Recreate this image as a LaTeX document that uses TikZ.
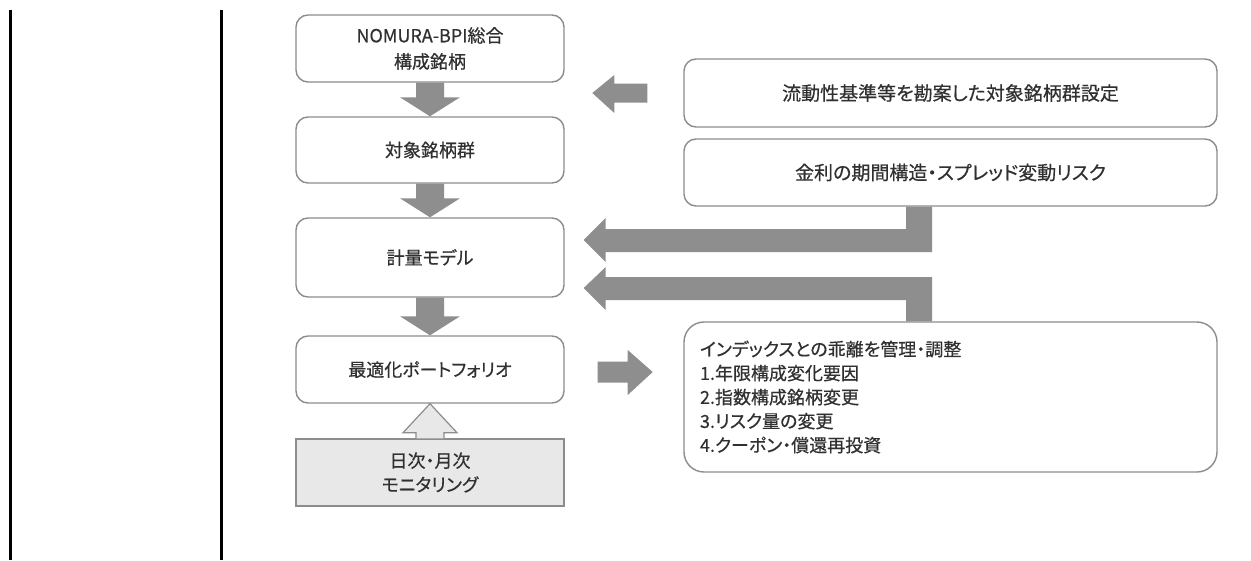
\documentclass[tikz,border=0pt]{standalone}
\usepackage{fontspec}
\setmainfont{Noto Sans CJK JP}[RawFeature=+palt, FakeBold=0.5]
\usetikzlibrary{calc}
\definecolor{txt}{RGB}{48,48,48}
\definecolor{bord}{RGB}{140,140,140}
\definecolor{arr}{RGB}{142,142,142}
\definecolor{lightfill}{RGB}{232,232,232}
\tikzset{
  rbox/.style={draw=bord, line width=1.4pt, rounded corners=12pt, fill=white,
    minimum width=268pt, minimum height=67pt, align=center, text=txt,
    font=\fontsize{18}{26}\selectfont, inner sep=0pt},
  wbox/.style={rbox, minimum width=533pt, minimum height=67pt,
    font=\fontsize{19}{24}\selectfont},
  blk/.style={fill=arr, draw=none},
  blkup/.style={fill=lightfill, draw=bord, line width=1.2pt},
  vline/.style={line width=3pt, black}
}
\begin{document}
\begin{tikzpicture}[x=1pt,y=-1pt]
\useasboundingbox (0,0) rectangle (1251,560);
\fill[white] (0,0) rectangle (1251,560);
% vertical rules
\coordinate (l1t) at (10,10); \coordinate (l1b) at (10,560);
\coordinate (l2t) at (221,10); \coordinate (l2b) at (221,560);
\draw[vline] (l1t) -- (l1b);
\draw[vline] (l2t) -- (l2b);
% left column
\node[rbox] (b1) at (430,48.5) {NOMURA-BPI総合\\構成銘柄};
\node[rbox, minimum height=66pt] (b2) at (430,150) {対象銘柄群};
\node[rbox, minimum height=79pt] (b3) at (430,257.5) {計量モデル};
\node[rbox] (b4) at (430,369.5) {最適化ポートフォリオ};
\node[rbox, rounded corners=0pt, fill=lightfill, font=\fontsize{18}{24}\selectfont] (b5) at (430,472.5) {日次・月次\\モニタリング};
% right column
\node[wbox, minimum height=68pt] (rA) at (950.5,93) {流動性基準等を勘案した対象銘柄群設定};
\node[wbox] (rB) at (950.5,172.5) {金利の期間構造・スプレッド変動リスク};
\node[wbox, minimum height=150pt, rounded corners=20pt, align=left, text width=501pt, inner xsep=16pt,
  font=\fontsize{18}{24}\selectfont] (rC) at (950.5,397)
 {インデックスとの乖離を管理・調整\\1.年限構成変化要因\\2.指数構成銘柄変更\\3.リスク量の変更\\4.クーポン・償還再投資};
% down block arrows
\foreach \a/\b in {b1/b2, b2/b3, b3/b4}{
  \fill[blk] ($(\a.south)+(-14,0)$) -- ($(\a.south)+(14,0)$) -- ($(\b.north)+(14,-19)$)
    -- ($(\b.north)+(30,-19)$) -- (\b.north) -- ($(\b.north)+(-30,-19)$)
    -- ($(\b.north)+(-14,-19)$) -- cycle;
}
% up outline arrow
\draw[blkup] ($(b5.north)+(-14,0)$) -- ($(b4.south)+(-14,29)$) -- ($(b4.south)+(-27,29)$)
  -- (b4.south) -- ($(b4.south)+(27,29)$) -- ($(b4.south)+(14,29)$) -- ($(b5.north)+(14,0)$);
% left arrow beside rA
\fill[blk] ($(rA.west)+(-36,-9.5)$) -- ($(rA.west)+(-36,9.5)$) -- ($(rA.west)+(-69,9.5)$)
  -- ($(rA.west)+(-69,20)$) -- ($(rA.west)+(-91,0)$) -- ($(rA.west)+(-69,-18)$)
  -- ($(rA.west)+(-69,-9.5)$) -- cycle;
% right arrow beside b4
\fill[blk] ($(b4.east)+(33,-8)$) -- ($(b4.east)+(63,-8)$) -- ($(b4.east)+(63,-19.5)$)
  -- ($(b4.east)+(88,2.5)$) -- ($(b4.east)+(63,25.5)$) -- ($(b4.east)+(63,13)$)
  -- ($(b4.east)+(33,13)$) -- cycle;
% elbow arrow rB -> b3
\coordinate (t1) at ($(b3.east)+(19,-17.5)$);
\coordinate (s1) at ($(rB.south)+(-44.5,0)$);
\fill[blk] (s1) -- ($(s1)+(26,0)$) -- ($(s1|-t1)+(26,12)$) -- ($(t1)+(22,12)$)
  -- ($(t1)+(22,22)$) -- (t1) -- ($(t1)+(22,-22)$) -- ($(t1)+(22,-11)$)
  -- ($(s1|-t1)+(0,-11)$) -- cycle;
% elbow arrow rC -> b3
\coordinate (t2) at ($(b3.east)+(19,30.5)$);
\coordinate (s2) at ($(rC.north)+(-44.5,0)$);
\fill[blk] (s2) -- ($(s2)+(26,0)$) -- ($(s2|-t2)+(26,-11)$) -- ($(t2)+(22,-11)$)
  -- ($(t2)+(22,-21)$) -- (t2) -- ($(t2)+(22,22)$) -- ($(t2)+(22,12)$)
  -- ($(s2|-t2)+(0,12)$) -- cycle;
\end{tikzpicture}
\end{document}
